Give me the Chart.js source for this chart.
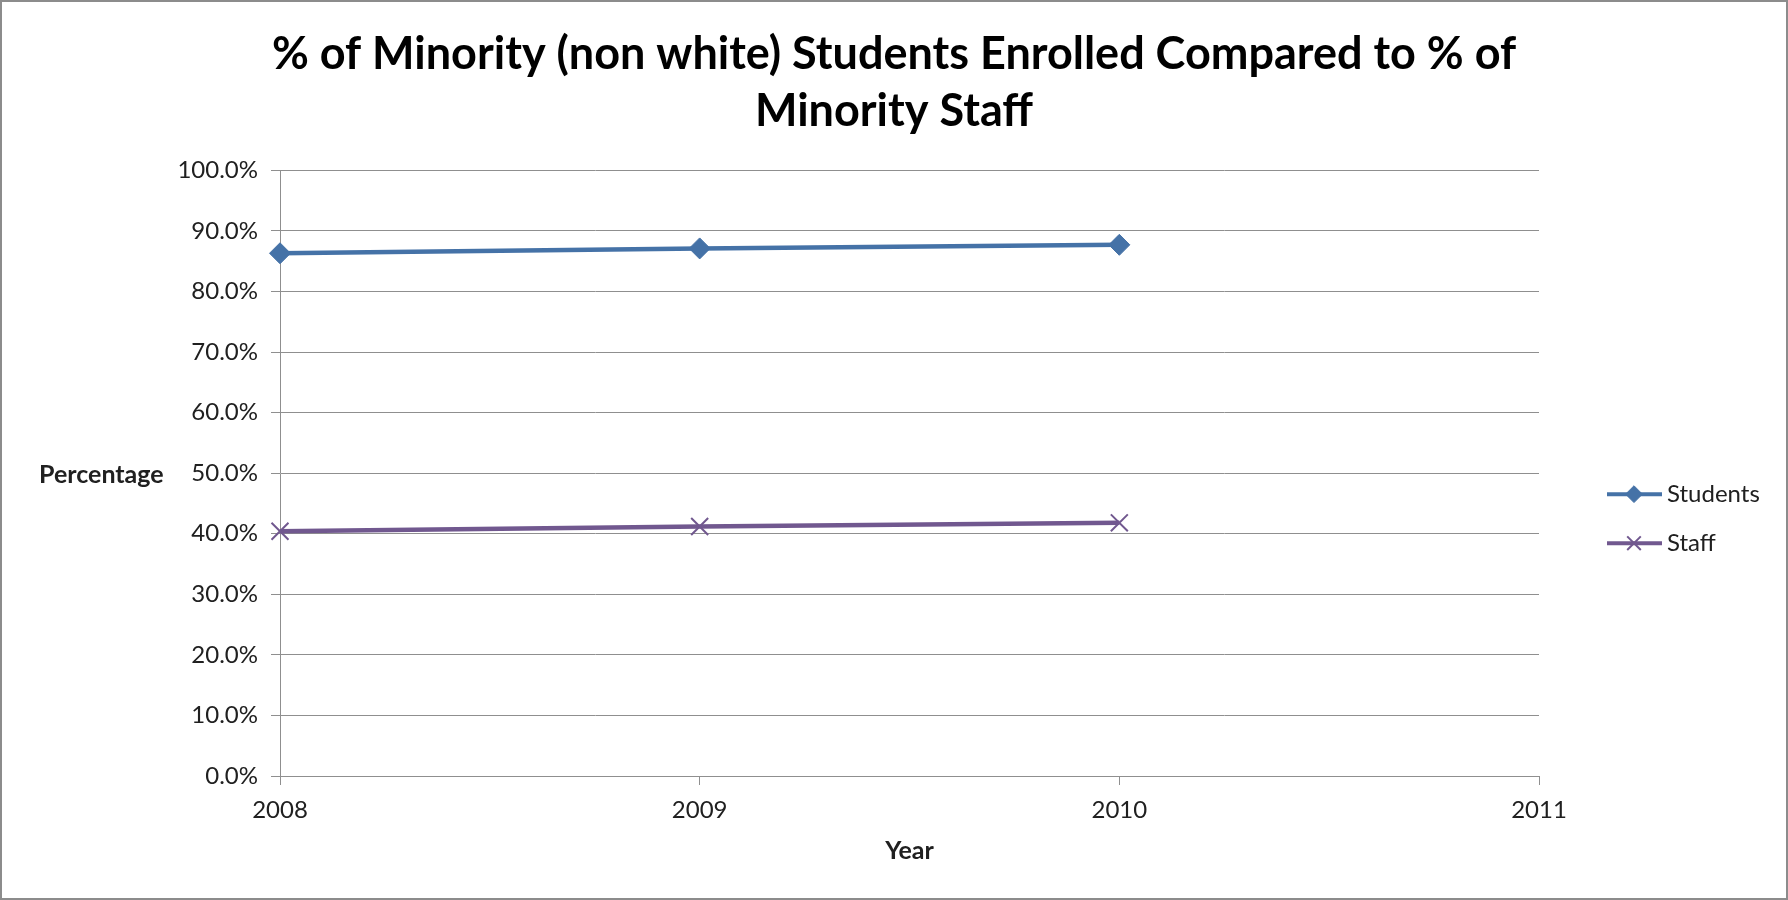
<!DOCTYPE html>
<html>
<head>
<meta charset="utf-8">
<title>Minority Students vs Staff</title>
<script src="https://cdn.jsdelivr.net/npm/chart.js@4"></script>
<style>
html, body { margin: 0; padding: 0; background: #fff; }
#wrap { width: 1788px; height: 900px; }
</style>
</head>
<body>
<div id="wrap"><canvas id="chart" width="1788" height="900"></canvas></div>
<script>
// data
var years = ['2008', '2009', '2010', '2011'];
var students = [86.3, 87.1, 87.7];
var staff = [40.4, 41.2, 41.8];
var seriesNames = ['Students', 'Staff'];
var chartTitle = ['% of Minority (non white) Students Enrolled Compared to % of', 'Minority Staff'];

var blue = '#4572A7';
var purple = '#71588F';
var gridColor = '#8f8f8f';
var textColor = '#202020';

// white background + grey frame round the whole chart
var framePlugin = {
	id: 'frame',
	beforeDraw: function (chart) {
		var ctx = chart.ctx;
		ctx.save();
		ctx.fillStyle = '#fff';
		ctx.fillRect(0, 0, chart.width, chart.height);
		ctx.strokeStyle = '#8c8c8c';
		ctx.lineWidth = 2;
		ctx.strokeRect(1, 1, chart.width - 2, chart.height - 2);
		ctx.restore();
	}
};

// horizontal "Percentage" label, Excel style
var yLabelPlugin = {
	id: 'yLabel',
	afterDraw: function (chart) {
		var ctx = chart.ctx;
		var a = chart.chartArea;
		ctx.save();
		ctx.font = 'bold 25px Lato';
		ctx.fillStyle = textColor;
		ctx.textAlign = 'left';
		ctx.textBaseline = 'middle';
		ctx.fillText('Percentage', a.left - 241, (a.top + a.bottom) / 2 + 2);
		ctx.restore();
	}
};

// legend with line + marker, like the original
var legendPlugin = {
	id: 'lineLegend',
	afterDraw: function (chart) {
		var ctx = chart.ctx;
		var a = chart.chartArea;
		var x0 = a.right + 68;
		var mid = (a.top + a.bottom) / 2;
		chart.data.datasets.forEach(function (ds, i) {
			var y = mid + 21 + i * 49;
			ctx.save();
			ctx.strokeStyle = ds.borderColor;
			ctx.lineWidth = 4;
			ctx.beginPath();
			ctx.moveTo(x0, y);
			ctx.lineTo(x0 + 55, y);
			ctx.stroke();
			ctx.fillStyle = ds.pointBackgroundColor;
			ctx.strokeStyle = ds.pointBorderColor;
			ctx.lineWidth = ds.pointBorderWidth;
			Chart.helpers.drawPoint(ctx, {
				pointStyle: ds.pointStyle,
				radius: ds.pointRadius * 0.8,
				borderWidth: ds.pointBorderWidth
			}, x0 + 27, y);
			ctx.font = '24px Lato';
			ctx.fillStyle = textColor;
			ctx.textAlign = 'left';
			ctx.textBaseline = 'middle';
			ctx.fillText(ds.label, x0 + 60, y);
			ctx.restore();
		});
	}
};

new Chart(document.getElementById('chart'), {
	type: 'line',
	data: {
		labels: years,
		datasets: [{
			label: seriesNames[0],
			data: students,
			borderColor: blue,
			backgroundColor: blue,
			borderWidth: 4.5,
			pointStyle: 'rectRot',
			pointRadius: 10.5,
			pointBackgroundColor: blue,
			pointBorderColor: blue,
			pointBorderWidth: 1,
			fill: false,
			tension: 0
		}, {
			label: seriesNames[1],
			data: staff,
			borderColor: purple,
			backgroundColor: purple,
			borderWidth: 4.5,
			pointStyle: 'crossRot',
			pointRadius: 12,
			pointBackgroundColor: purple,
			pointBorderColor: purple,
			pointBorderWidth: 2,
			fill: false,
			tension: 0
		}]
	},
	options: {
		responsive: false,
		animation: false,
		layout: { padding: 0 },
		plugins: {
			legend: { display: false },
			tooltip: { enabled: false },
			title: {
				display: true,
				text: chartTitle,
				color: '#000',
				font: { family: 'Lato', size: 45, weight: 'bold', lineHeight: 1.27 },
				padding: { top: 26, bottom: 30 }
			}
		},
		scales: {
			x: {
				type: 'category',
				offset: false,
				afterFit: function (scale) { scale.height = 124; },
				grid: { drawOnChartArea: false, drawTicks: true, tickLength: 9, color: gridColor },
				border: { display: true, color: gridColor, width: 1 },
				ticks: { color: textColor, font: { family: 'Lato', size: 24 }, padding: 11, maxRotation: 0 },
				title: {
					display: true,
					text: 'Year',
					color: textColor,
					font: { family: 'Lato', size: 25, weight: 'bold' },
					padding: { top: 0, bottom: 34 }
				}
			},
			y: {
				min: 0,
				max: 100,
				afterFit: function (scale) { scale.width = 280; },
				grid: { color: gridColor, drawTicks: true, tickLength: 9, lineWidth: 1 },
				border: { display: true, color: gridColor, width: 1 },
				ticks: {
					stepSize: 10,
					color: textColor,
					font: { family: 'Lato', size: 24 },
					padding: 13,
					callback: function (v) { return v.toFixed(1) + '%'; }
				}
			},
			// empty box on the right that keeps room for the legend
			yRight: {
				position: 'right',
				afterFit: function (scale) { scale.width = 249; },
				grid: { display: false },
				border: { display: false },
				ticks: { display: false }
			}
		}
	},
	plugins: [framePlugin, yLabelPlugin, legendPlugin]
});
</script>
</body>
</html>
